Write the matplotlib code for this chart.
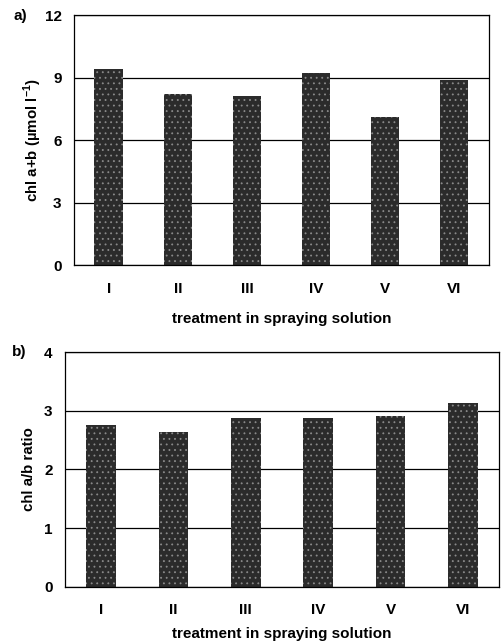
import numpy as np
import matplotlib
matplotlib.use("Agg")
import matplotlib.pyplot as plt

plt.rcParams['font.family'] = ['Liberation Sans', 'DejaVu Sans']
plt.rcParams['font.weight'] = 'bold'
plt.rcParams['mathtext.fontset'] = 'custom'
plt.rcParams['mathtext.rm'] = 'Liberation Sans'
plt.rcParams['mathtext.bf'] = 'Liberation Sans:bold'
plt.rcParams['hatch.color'] = '#8a8a8a'
plt.rcParams['hatch.linewidth'] = 0.6

# --- data ---
treatments = ['I', 'II', 'III', 'IV', 'V', 'VI']
chl_total = [9.4, 8.2, 8.1, 9.2, 7.1, 8.9]        # chl a+b (umol l-1)
chl_ratio = [2.76, 2.64, 2.88, 2.88, 2.91, 3.13]  # chl a/b ratio

fig = plt.figure(figsize=(5.04, 6.44), dpi=100)
ax_a = fig.add_axes([0.147, 0.5885, 0.823, 0.388])
ax_b = fig.add_axes([0.129, 0.089, 0.861, 0.364])

x = np.arange(len(treatments))


def draw_panel(ax, vals, ymax, step, ylabel, ylab_x, xlab_y):
    ax.set_axisbelow(True)
    ax.bar(x, vals, width=0.41, color='#2b2b2b', hatch='...',
           edgecolor='#8a8a8a', linewidth=0, zorder=2)
    ax.set_xlim(-0.5, len(treatments) - 0.5)
    ax.set_ylim(0, ymax)
    ax.set_yticks(np.arange(0, ymax + step / 2, step))
    ax.set_xticks(x)
    ax.set_xticklabels(treatments)
    ax.yaxis.grid(True, color='black', linewidth=0.9)
    ax.tick_params(axis='both', length=0, labelsize=11)
    ax.tick_params(axis='y', pad=9)
    ax.tick_params(axis='x', pad=12)
    for s in ax.spines.values():
        s.set_color('black')
        s.set_linewidth(0.9)
    ax.set_ylabel(ylabel, fontsize=10.8, fontweight='bold', va='center')
    ax.yaxis.set_label_coords(ylab_x, 0.5)
    ax.set_xlabel('treatment in spraying solution', fontsize=11,
                  fontweight='bold', va='center')
    ax.xaxis.set_label_coords(0.5, xlab_y)


draw_panel(ax_a, chl_total, 12, 3, r'chl a+b (µmol l$^{\mathbf{-1}}$)', -0.099, -0.216)
draw_panel(ax_b, chl_ratio, 4, 1, 'chl a/b ratio', -0.083, -0.202)

fig.text(0.026, 1 - 16 / 644, 'a)', fontsize=11, fontweight='bold', va='center')
fig.text(0.024, 1 - 352 / 644, 'b)', fontsize=11, fontweight='bold', va='center')

fig.savefig('out.png', dpi=100)
